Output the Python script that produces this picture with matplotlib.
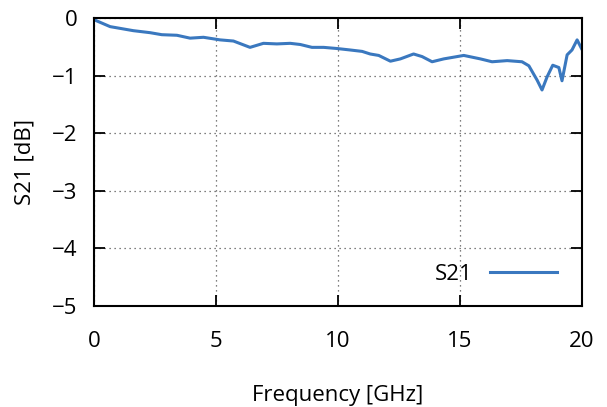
import matplotlib
matplotlib.use('Agg')
import matplotlib.pyplot as plt

plt.rcParams['font.family'] = ['Open Sans', 'DejaVu Sans']

# Data
freq = [0.0, 0.66, 1.61, 2.3, 2.78, 3.4, 3.94, 4.49, 5.17, 5.72, 6.4, 6.95,
        7.5, 8.05, 8.46, 8.94, 9.42, 9.97, 10.5, 11.0, 11.33, 11.68, 12.16,
        12.57, 13.11, 13.46, 13.87, 14.35, 15.17, 15.85, 16.33, 16.95, 17.56,
        17.84, 18.18, 18.38, 18.59, 18.82, 19.07, 19.2, 19.41, 19.61, 19.82,
        20.0]
s21 = [-0.03, -0.15, -0.22, -0.255, -0.29, -0.30, -0.35, -0.335, -0.38,
       -0.40, -0.51, -0.44, -0.45, -0.44, -0.46, -0.51, -0.51, -0.53, -0.555,
       -0.58, -0.625, -0.65, -0.75, -0.71, -0.625, -0.67, -0.76, -0.71, -0.65,
       -0.71, -0.76, -0.74, -0.76, -0.83, -1.08, -1.25, -1.02, -0.82, -0.86,
       -1.09, -0.64, -0.555, -0.38, -0.53]

fig = plt.figure(figsize=(6.07, 4.07), dpi=100)
ax = fig.add_axes([0.1549, 0.2482, 0.8031, 0.7076])
ax.plot(freq, s21, color='#3a78bf', linewidth=2.2, label='S21')

ax.set_xlim(0, 20)
ax.set_ylim(-5, 0)
ax.set_xticks([0, 5, 10, 15, 20])
ax.set_yticks([0, -1, -2, -3, -4, -5])
ax.grid(True, linestyle=(0, (1, 3)), color='#555555', linewidth=0.9)
ax.tick_params(direction='in', length=8, width=1.3, top=True, right=True,
               labelsize=16)
ax.tick_params(axis='x', pad=18)
ax.tick_params(axis='y', pad=12)
for sp in ax.spines.values():
    sp.set_linewidth(1.5)

ax.set_xlabel('Frequency [GHz]', fontsize=16, labelpad=24)
ax.set_ylabel('S21 [dB]', fontsize=16, labelpad=12)

ax.legend(loc='lower right', frameon=False, fontsize=16, markerfirst=False,
          handlelength=3.0, bbox_to_anchor=(0.99, 0.005))

fig.savefig('out.png', dpi=100)
